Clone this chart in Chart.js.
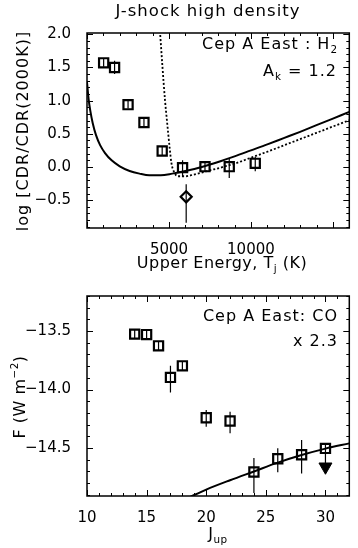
<!DOCTYPE html>
<html><head><meta charset="utf-8">
<script src="https://cdn.jsdelivr.net/npm/chart.js@4.4.1/dist/chart.umd.min.js"></script>
<style>
html,body{margin:0;padding:0;background:#fff;width:358px;height:548px;overflow:hidden}
canvas{position:absolute;left:0;display:block}
#c1{top:0}
#c2{top:275px}
</style></head><body>
<canvas id="c1" width="358" height="275"></canvas>
<canvas id="c2" width="358" height="273"></canvas>
<script>
// ================= DATA =================
// Top panel: Cep A East H2, log[CDR/CDR(2000K)] vs upper energy (K)
const h2Energy  = [1015, 1682, 2504, 3474, 4586, 5829, 7197, 8677, 10263];
const h2LogCDR  = [1.57, 1.50, 0.94, 0.67, 0.24, -0.01, 0.005, 0.005, 0.055];
const h2ErrUp   = [0.06, 0.10, 0.06, 0.06, 0.07, 0.11, 0.07, 0.12, 0.10];
const h2ErrDn   = [0.06, 0.10, 0.06, 0.06, 0.07, 0.14, 0.07, 0.17, 0.12];
// single diamond point
const h2DiamondEnergy = [6050];
const h2DiamondLog    = [-0.45];
const h2DiamondErrUp  = [0.19];
const h2DiamondErrDn  = [0.39];
// J-shock high density model (solid)
const jshockT   = [0, 100, 200, 350, 550, 800, 1100, 1500, 2000, 2600, 3200, 3800, 4500, 5200, 6000, 7000, 8000, 9000, 10000, 11000, 12000, 13000, 14000, 15000, 16000];
const jshockLog = [1.28, 1.02, 0.85, 0.66, 0.48, 0.33, 0.21, 0.10, 0.01, -0.06, -0.10, -0.125, -0.125, -0.10, -0.06, 0.0, 0.075, 0.16, 0.25, 0.34, 0.435, 0.53, 0.63, 0.73, 0.83];
// second model (dotted)
const dotModelT   = [4450, 4600, 4760, 4860, 4955, 5050, 5150, 5300, 5550, 6000, 6500, 7000, 7500, 8000, 8500, 9000, 10000, 11000, 12000, 13000, 14000, 15000, 16000];
const dotModelLog = [2.05, 1.52, 1.0, 0.74, 0.5, 0.27, 0.06, -0.07, -0.14, -0.14, -0.115, -0.085, -0.05, -0.02, 0.015, 0.05, 0.14, 0.23, 0.325, 0.42, 0.515, 0.61, 0.705];
// tick labels
const topXTickLabels = [5000, 10000];
const topYTickLabels = [-0.5, 0.0, 0.5, 1.0, 1.5, 2.0];

// Bottom panel: Cep A East CO, log F (W m^-2) vs J_up
const coJup   = [14, 15, 16, 17, 18, 20, 22, 24, 26, 28, 30];
const coLogF  = [-13.526, -13.53, -13.626, -13.896, -13.797, -14.241, -14.269, -14.705, -14.591, -14.557, -14.503];
const coErrUp = [0.035, 0.035, 0.035, 0.10, 0.035, 0.066, 0.08, 0.12, 0.09, 0.126, 0.03];
const coErrDn = [0.035, 0.035, 0.035, 0.13, 0.035, 0.077, 0.105, 0.18, 0.117, 0.16, 0.16];
const coLimitJup  = [30];
const coLimitLogF = [-14.66];
const coModelJup  = [18.5, 20, 22, 24, 26, 28, 30, 32];
const coModelLogF = [-14.925, -14.855, -14.775, -14.70, -14.625, -14.56, -14.505, -14.46];
const botXTickLabels = [10, 15, 20, 25, 30];
const botYTickLabels = [-14.5, -14.0, -13.5];

// ================= HELPERS =================
const FONT = '"DejaVu Sans", sans-serif';
Chart.defaults.color = '#000';
Chart.defaults.font.family = FONT;

const pts = (xs, ys) => xs.map((x, i) => ({x, y: ys[i]}));
const range = (a, b, s) => { const r = []; for (let v = a; v <= b + s * 1e-6; v += s) r.push(+v.toFixed(6)); return r; };
const fmtY = v => (v < 0 ? '\u2212' : '') + Math.abs(v).toFixed(1);

function richText(ctx, it) {
  const size = it.size || 16;
  ctx.save();
  ctx.translate(it.x, it.y);
  if (it.rotate) ctx.rotate(it.rotate);
  ctx.fillStyle = '#000';
  ctx.textBaseline = 'middle';
  ctx.textAlign = 'left';
  try { ctx.letterSpacing = (it.ls || 0) + 'px'; } catch (e) {}
  const parts = it.parts.map(p => {
    const fs = (p.sub || p.sup) ? size * 0.65 : size;
    ctx.font = fs + 'px ' + FONT;
    return {t: p.t, fs, w: ctx.measureText(p.t).width,
            dy: p.sub ? size * 0.32 : (p.sup ? -size * 0.38 : 0)};
  });
  const total = parts.reduce((s, p) => s + p.w, 0);
  let cx = it.align === 'right' ? -total : (it.align === 'center' ? -total / 2 : 0);
  for (const p of parts) { ctx.font = p.fs + 'px ' + FONT; ctx.fillText(p.t, cx, p.dy); cx += p.w; }
  ctx.restore();
}

function textPlugin(items) {
  return { id: 'richtexts', afterDraw(chart) { items.forEach(it => richText(chart.ctx, it)); } };
}

function boxPlugin(t) {
  return { id: 'boxticks', afterDatasetsDraw(chart) {
    const {ctx, chartArea: a, scales: {x, y}} = chart;
    ctx.save();
    ctx.strokeStyle = '#000';
    ctx.lineWidth = 1;
    ctx.beginPath();
    const mk = (vals, len, isX) => vals.forEach(v => {
      if (isX) {
        const p = Math.round(x.getPixelForValue(v)) + 0.5;
        if (p < a.left || p > a.right) return;
        ctx.moveTo(p, a.bottom); ctx.lineTo(p, a.bottom - len);
        ctx.moveTo(p, a.top); ctx.lineTo(p, a.top + len);
      } else {
        const p = Math.round(y.getPixelForValue(v)) + 0.5;
        if (p < a.top || p > a.bottom) return;
        ctx.moveTo(a.left, p); ctx.lineTo(a.left + len, p);
        ctx.moveTo(a.right, p); ctx.lineTo(a.right - len, p);
      }
    });
    mk(t.xMinor, 3, true); mk(t.xMajor, 6, true);
    mk(t.yMinor, 3, false); mk(t.yMajor, 6, false);
    ctx.stroke();
    ctx.lineWidth = 1.5;
    ctx.strokeRect(a.left, a.top, a.right - a.left, a.bottom - a.top);
    ctx.restore();
  }};
}

function errPlugin(sets) {
  return { id: 'errbars', afterDatasetsDraw(chart) {
    const {ctx, scales: {x, y}} = chart;
    ctx.save();
    ctx.strokeStyle = '#000';
    ctx.lineWidth = 1.2;
    ctx.beginPath();
    sets.forEach(s => s.x.forEach((xv, i) => {
      const px = x.getPixelForValue(xv);
      ctx.moveTo(px, y.getPixelForValue(s.y[i] + s.up[i]));
      ctx.lineTo(px, y.getPixelForValue(s.y[i] - s.dn[i]));
    }));
    ctx.stroke();
    ctx.restore();
  }};
}

function scales(xr, yr, xLabels, yLabels, xFmt, xH, xPad) {
  return {
    x: { type: 'linear', min: xr[0], max: xr[1],
         grid: {display: false}, border: {display: false},
         afterBuildTicks: s => { s.ticks = xLabels.map(v => ({value: v})); },
         afterFit: s => { s.height = xH; },
         ticks: { padding: xPad, autoSkip: false, maxRotation: 0, font: {family: FONT, size: 15}, color: '#000', callback: xFmt } },
    y: { type: 'linear', min: yr[0], max: yr[1],
         grid: {display: false}, border: {display: false},
         afterBuildTicks: s => { s.ticks = yLabels.map(v => ({value: v})); },
         afterFit: s => { s.width = 87; },
         ticks: { padding: 8, autoSkip: false, font: {family: FONT, size: 15}, color: '#000', callback: fmtY } }
  };
}

const baseOpts = {
  responsive: false, devicePixelRatio: 1, animation: false,
  plugins: { legend: {display: false}, tooltip: {enabled: false}, title: {display: false} },
  elements: { line: {tension: 0} }
};

// ================= TOP CHART =================
new Chart(document.getElementById('c1'), {
  type: 'line',
  data: { datasets: [
    { data: pts(jshockT, jshockLog), borderColor: '#000', borderWidth: 2, pointRadius: 0, cubicInterpolationMode: 'monotone', fill: false },
    { data: pts(dotModelT, dotModelLog), borderColor: '#000', borderWidth: 1.8, borderDash: [2, 2], pointRadius: 0, cubicInterpolationMode: 'monotone', fill: false },
    { data: pts(h2Energy, h2LogCDR), showLine: false, pointStyle: 'rect', pointRadius: 6.5, pointBorderWidth: 2.2, borderColor: '#000', pointBackgroundColor: 'rgba(0,0,0,0)' },
    { data: pts(h2DiamondEnergy, h2DiamondLog), showLine: false, pointStyle: 'rectRot', pointRadius: 5.5, pointBorderWidth: 2.2, borderColor: '#000', pointBackgroundColor: 'rgba(0,0,0,0)' }
  ]},
  options: Object.assign({}, baseOpts, {
    layout: { padding: {top: 33, right: 3, left: 0, bottom: 0} },
    scales: scales([0, 16000], [-0.92, 2.02], topXTickLabels, topYTickLabels, v => String(v), 47, 5)
  }),
  plugins: [
    errPlugin([{x: h2Energy, y: h2LogCDR, up: h2ErrUp, dn: h2ErrDn},
               {x: h2DiamondEnergy, y: h2DiamondLog, up: h2DiamondErrUp, dn: h2DiamondErrDn}]),
    boxPlugin({ xMajor: range(0, 16000, 5000), xMinor: range(0, 16000, 1000),
                yMajor: range(-0.5, 2.0, 0.5), yMinor: range(-0.9, 2.0, 0.1) }),
    textPlugin([
      {x: 208, y: 12, align: 'center', size: 16.5, ls: 1, parts: [{t: 'J-shock high density'}]},
      {x: 338, y: 45, align: 'right', size: 16, ls: 1, parts: [{t: 'Cep A East : H'}, {t: '2', sub: true}]},
      {x: 337, y: 72, align: 'right', size: 16, ls: 1, parts: [{t: 'A'}, {t: 'k', sub: true}, {t: ' = 1.2'}]},
      {x: 24, y: 131, align: 'center', size: 16, ls: 1, rotate: -Math.PI / 2, parts: [{t: 'log [CDR/CDR(2000K)]'}]},
      {x: 222, y: 264, align: 'center', size: 16, ls: 0.5, parts: [{t: 'Upper Energy, T'}, {t: 'j', sub: true}, {t: ' (K)'}]}
    ])
  ]
});

// ================= BOTTOM CHART =================
new Chart(document.getElementById('c2'), {
  type: 'line',
  data: { datasets: [
    { data: pts(coModelJup, coModelLogF), borderColor: '#000', borderWidth: 2, pointRadius: 0, cubicInterpolationMode: 'monotone', fill: false },
    { data: pts(coJup, coLogF), showLine: false, pointStyle: 'rect', pointRadius: 6.5, pointBorderWidth: 2.2, borderColor: '#000', pointBackgroundColor: 'rgba(0,0,0,0)' },
    { data: pts(coLimitJup, coLimitLogF), showLine: false, pointStyle: 'triangle', pointRotation: 180, pointRadius: 7.5, pointBorderWidth: 1, borderColor: '#000', pointBackgroundColor: '#000' }
  ]},
  options: Object.assign({}, baseOpts, {
    layout: { padding: {top: 21, right: 3, left: 0, bottom: 0} },
    scales: scales([10, 32], [-14.91, -13.2], botXTickLabels, botYTickLabels, v => String(v), 52, 5)
  }),
  plugins: [
    errPlugin([{x: coJup, y: coLogF, up: coErrUp, dn: coErrDn}]),
    boxPlugin({ xMajor: range(10, 30, 5), xMinor: range(10, 32, 1),
                yMajor: range(-14.5, -13.5, 0.5), yMinor: range(-14.9, -13.2, 0.1) }),
    textPlugin([
      {x: 338, y: 42, align: 'right', size: 16, ls: 1, parts: [{t: 'Cep A East: CO'}]},
      {x: 338, y: 67, align: 'right', size: 16, ls: 1, parts: [{t: 'x 2.3'}]},
      {x: 21, y: 122, align: 'center', size: 16, ls: 0.5, rotate: -Math.PI / 2, parts: [{t: 'F (W m'}, {t: '\u22122', sup: true}, {t: ')'}]},
      {x: 218, y: 260, align: 'center', size: 16, ls: 0.5, parts: [{t: 'J'}, {t: 'up', sub: true}]}
    ])
  ]
});
</script>
</body></html>
